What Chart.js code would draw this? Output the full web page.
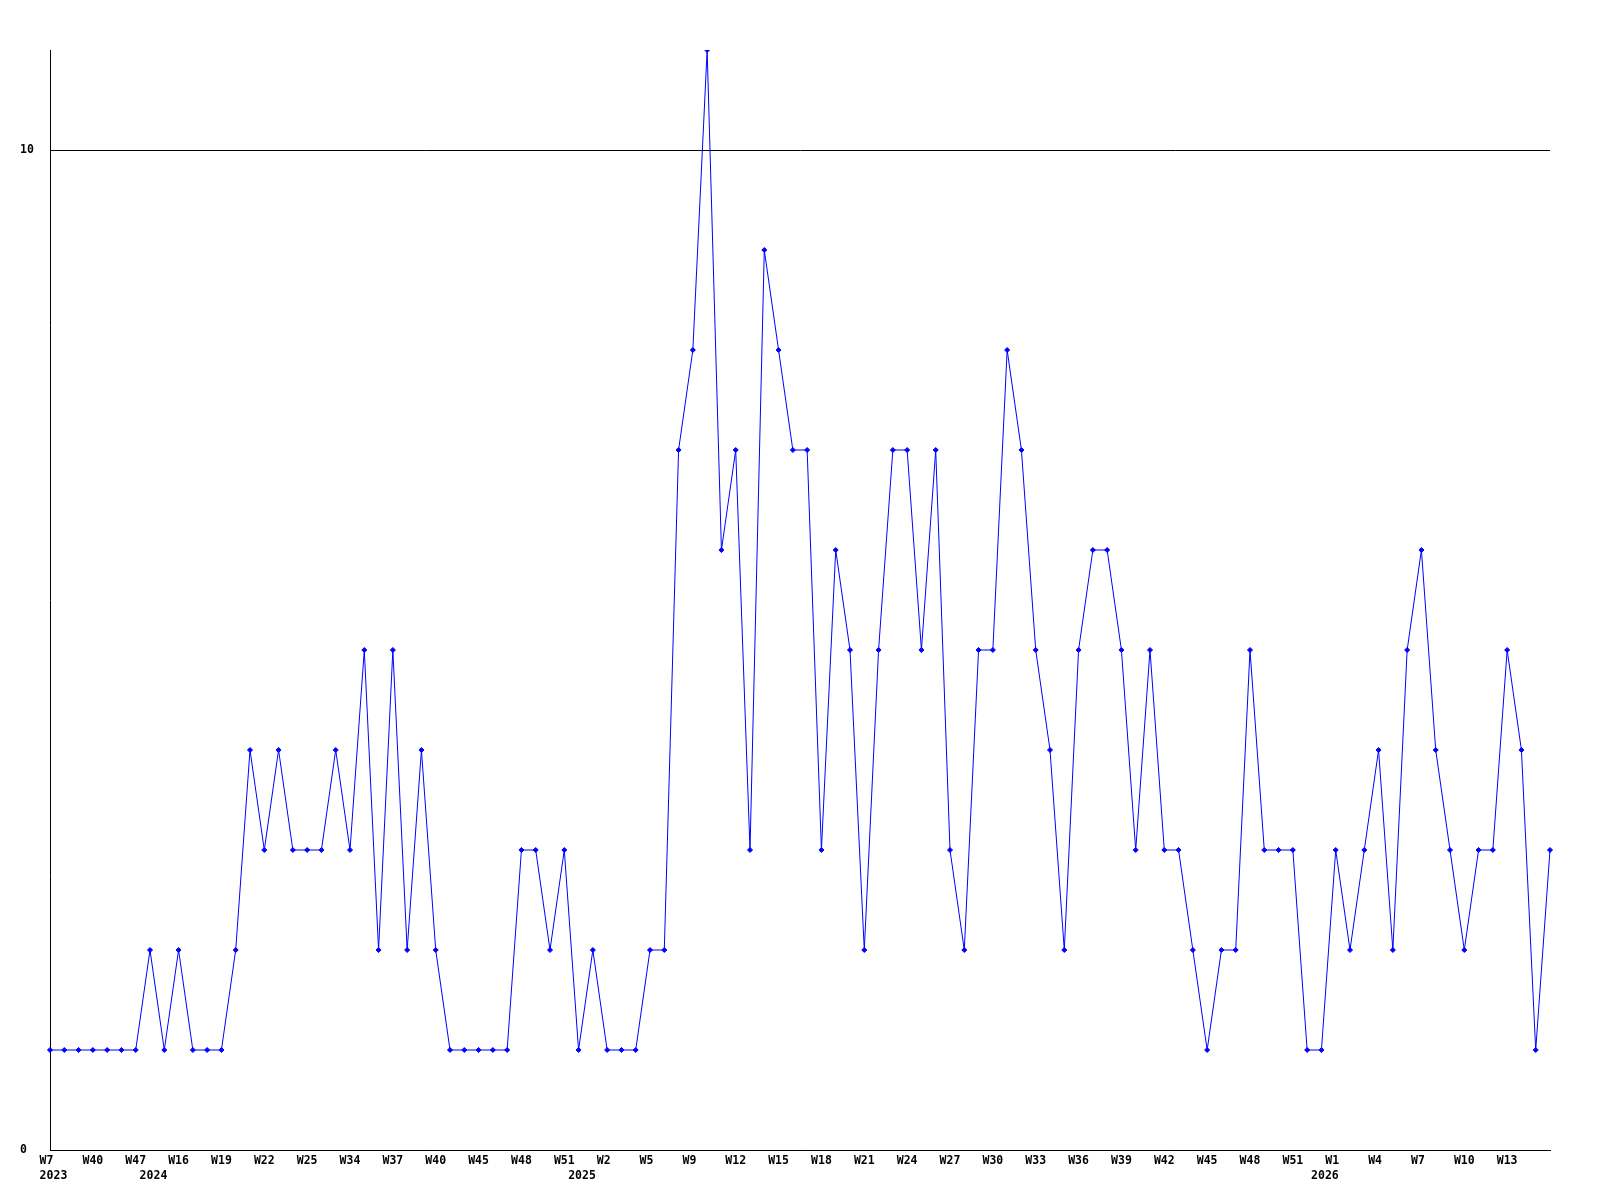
<!DOCTYPE html>
<html>
<head>
<meta charset="utf-8">
<script src="https://cdn.jsdelivr.net/npm/chart.js@4/dist/chart.umd.min.js"></script>
<style>
  body { margin: 0; background: #fff; }
  canvas { display: block; }
</style>
</head>
<body>
<canvas id="chart" width="1600" height="1200"></canvas>
<script>
// semanas com dados (semanas sem registo nao aparecem)
const weekLabels = [
  'W7', 'W18', 'W31', 'W40', 'W42', 'W44', 'W47',
  'W1', 'W10', 'W16', 'W17', 'W18', 'W19', 'W20', 'W21', 'W22', 'W23', 'W24', 'W25',
  'W28', 'W31', 'W34', 'W35', 'W36', 'W37', 'W38', 'W39', 'W40', 'W42', 'W43',
  'W45', 'W46', 'W47', 'W48', 'W49', 'W50', 'W51',
  'W0', 'W1', 'W2', 'W3', 'W4', 'W5', 'W6', 'W8', 'W9', 'W10', 'W11', 'W12',
  'W13', 'W14', 'W15', 'W16', 'W17', 'W18', 'W19', 'W20', 'W21', 'W22', 'W23',
  'W24', 'W25', 'W26', 'W27', 'W28', 'W29', 'W30', 'W31', 'W32', 'W33', 'W34',
  'W35', 'W36', 'W37', 'W38', 'W39', 'W40', 'W41', 'W42', 'W43', 'W44', 'W45',
  'W46', 'W47', 'W48', 'W49', 'W50', 'W51', 'W52',
  'W0', 'W1', 'W2', 'W3', 'W4', 'W5', 'W6', 'W7', 'W8', 'W9', 'W10', 'W11',
  'W12', 'W13', 'W14', 'W15', 'W16'
];

const counts = [
  1, 1, 1, 1, 1, 1, 1, 2, 1, 2,
  1, 1, 1, 2, 4, 3, 4, 3, 3, 3,
  4, 3, 5, 2, 5, 2, 4, 2, 1, 1,
  1, 1, 1, 3, 3, 2, 3, 1, 2, 1,
  1, 1, 2, 2, 7, 8, 11, 6, 7, 3,
  9, 8, 7, 7, 3, 6, 5, 2, 5, 7,
  7, 5, 7, 3, 2, 5, 5, 8, 7, 5,
  4, 2, 5, 6, 6, 5, 3, 5, 3, 3,
  2, 1, 2, 2, 5, 3, 3, 3, 1, 1,
  3, 2, 3, 4, 2, 5, 6, 4, 3, 2,
  3, 3, 5, 4, 1, 3
];

// anos e o indice do primeiro ponto de cada ano
const yearLabels = ['2023', '2024', '2025', '2026'];
const yearStart = [0, 7, 37, 89];

const yTicks = [0, 10];
const labelEvery = 3;

const tickFont = { family: '"DejaVu Sans Mono", "Liberation Mono", monospace', size: 11.5, weight: 'bold', lineHeight: 1.35 };

function xLabel(i) {
  // o ultimo ponto fica sem etiqueta
  const showWeek = i % labelEvery === 0 && i < weekLabels.length - 1;
  const week = showWeek ? weekLabels[i].padEnd(3, ' ') : '';
  const y = yearStart.indexOf(i);
  if (y >= 0) return [week, ' ' + yearLabels[y]];
  return week;
}

new Chart(document.getElementById('chart'), {
  type: 'line',
  data: {
    labels: weekLabels,
    datasets: [{
      data: counts,
      borderColor: '#0000ff',
      borderWidth: 1,
      tension: 0,
      pointStyle: 'rectRot',
      pointRadius: 2.5,
      pointBackgroundColor: '#0000ff',
      pointBorderColor: '#0000ff',
      pointBorderWidth: 1
    }]
  },
  options: {
    responsive: false,
    animation: false,
    devicePixelRatio: 1,
    layout: { padding: { left: 20, top: 50, right: 50, bottom: 0 } },
    plugins: {
      legend: { display: false },
      tooltip: { enabled: false }
    },
    scales: {
      x: {
        offset: false,
        grid: { display: false, drawTicks: false, tickLength: 0 },
        border: { display: true, color: '#000', width: 1 },
        ticks: {
          autoSkip: false,
          maxRotation: 0,
          minRotation: 0,
          padding: 3,
          color: '#000',
          font: tickFont,
          callback: (val, i) => xLabel(i)
        },
        afterFit: s => { s.height = 50; }
      },
      y: {
        min: 0,
        max: 11,
        grid: { color: '#000', lineWidth: 1, drawTicks: false, tickLength: 0 },
        border: { display: true, color: '#000', width: 1 },
        ticks: {
          includeBounds: false,
          stepSize: 10,
          crossAlign: 'far',
          padding: 0,
          color: '#000',
          font: tickFont
        },
        afterBuildTicks: s => { s.ticks = yTicks.map(v => ({ value: v })); },
        afterFit: s => { s.width = 30; }
      }
    }
  }
});
</script>
</body>
</html>
